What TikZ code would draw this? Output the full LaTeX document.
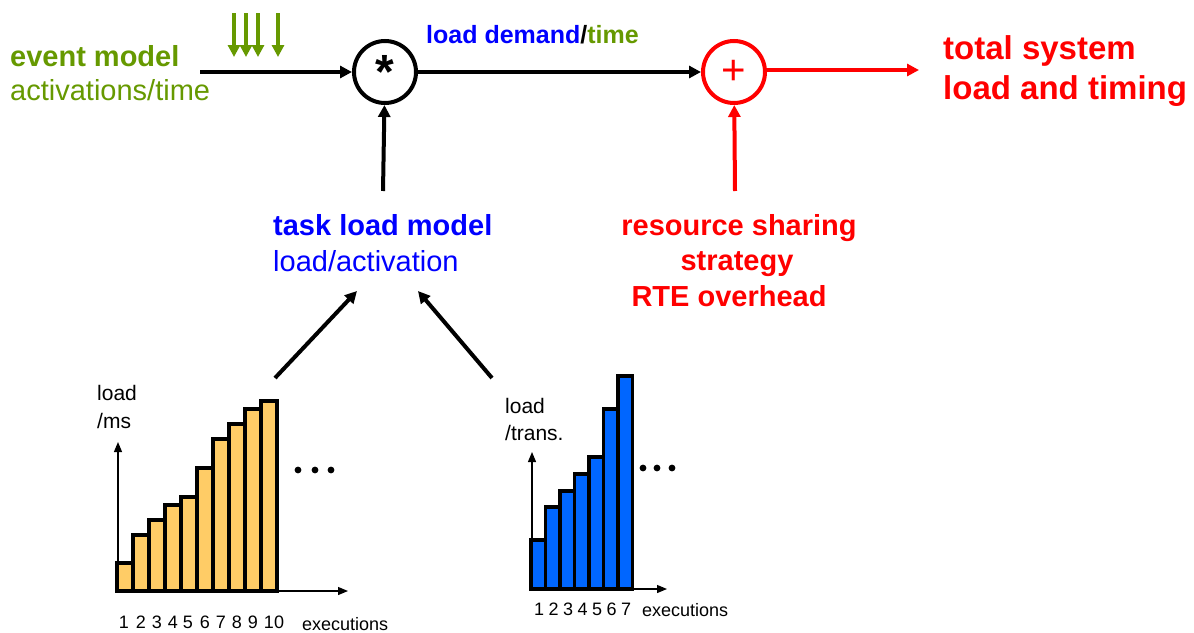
\documentclass[tikz,border=0pt]{standalone}
\usepackage{fontspec}
\setmainfont{Liberation Sans}
\usetikzlibrary{arrows.meta}

\definecolor{evgreen}{HTML}{669900}
\definecolor{ldblue}{HTML}{0000FF}
\definecolor{resred}{HTML}{FF0000}
\definecolor{barorange}{HTML}{FFCC66}
\definecolor{barblue}{HTML}{0066FF}

\tikzset{
	txt/.style={inner sep=0, anchor=base west},
	big/.style={font=\fontsize{29}{34}\selectfont},
	bigbf/.style={font=\fontsize{29}{34}\selectfont\bfseries},
	arr/.style={-{Triangle[length=12pt,width=12pt]}, line width=4pt},
	opcirc/.style={draw, circle, line width=4pt, minimum size=62pt, inner sep=0},
	axis/.style={-{Triangle[length=10pt,width=8pt]}, line width=1.2pt},
	bar/.style={draw, line width=3.8pt, line join=miter},
	num/.style={inner sep=0, anchor=base, font=\fontsize{18}{20}\selectfont}
}

\begin{document}
\begin{tikzpicture}[x=1pt, y=-1pt]
	\useasboundingbox (0,0) rectangle (1194,632);

	% operators
	\node [opcirc] (mul) at (385,72) {\fontsize{48}{48}\selectfont\bfseries *};
	\node [opcirc, resred] (add) at (734,72) {\fontsize{42}{42}\selectfont +};

	% labels
	\node [txt, bigbf, evgreen] (event) at (10,66) {event model};
	\node [txt, big, evgreen] (eventsub) at (10,100) {activations/time};
	\node [txt, font=\fontsize{25}{28}\selectfont\bfseries] (demand) at (426,43)
		{\textcolor{ldblue}{load demand}/\textcolor{evgreen}{time}};
	\node [txt, resred, font=\fontsize{33}{38}\selectfont\bfseries] (total) at (943,59) {total system};
	\node [txt, resred, font=\fontsize{33}{38}\selectfont\bfseries] (total2) at (943,99) {load and timing};
	\node [txt, bigbf, ldblue] (task) at (273,235) {task load model};
	\node [txt, big, ldblue] (act) at (273,271) {load/activation};
	\node [inner sep=0, anchor=base, bigbf, resred] (res) at (739,235) {resource sharing};
	\node [inner sep=0, anchor=base, bigbf, resred] (res2) at (737,270) {strategy};
	\node [inner sep=0, anchor=base, bigbf, resred] (res3) at (729,306) {RTE overhead};

	% connectors
	\coordinate (evin) at (200,72);
	\coordinate (sysout) at (919,70);
	\coordinate (taskup) at (383,191);
	\coordinate (resup) at (735,191);
	\draw [arr] (evin) -- (mul);
	\draw [arr] (mul) -- (add);
	\draw [arr, resred] (add.east |- sysout) -- (sysout);
	\draw [arr] (taskup) -- (mul);
	\draw [arr, resred] (resup) -- (add);

	% activations
	\foreach \x in {234,246,258,278}
		\draw [-{Triangle[length=12pt,width=12pt]}, line width=3.6pt, evgreen] (\x,13) -- (\x,57);

	% chart per ms
	\coordinate (msin) at (275,378);
	\coordinate (msto) at (357,291);
	\draw [arr] (msin) -- (msto);
	\foreach \t [count=\i from 0] in {563,535,520,505,497,468,439,424,409,401}
		\draw [bar, fill=barorange] ({117+16*\i},591) rectangle ({133+16*\i},\t);
	\draw [axis] (118,591) -- (118,442);
	\draw [axis] (118,591) -- (348,591);
	\node [txt, font=\fontsize{21}{24}\selectfont] (msy) at (97,400) {load};
	\node [txt, font=\fontsize{21}{24}\selectfont] (msy2) at (97,428) {/ms};
	\foreach \n/\x in {1/124,2/141,3/157,4/173,5/188,6/205,7/221,8/237,9/253,10/274}
		\node [num] (msn\n) at (\x,628) {\n};
	\node [txt, font=\fontsize{18}{20}\selectfont] (msx) at (302,630) {executions};
	\foreach \x in {298,315,331}
		\fill (\x,470) circle (3.4);

	% chart per transaction
	\coordinate (trin) at (492,378);
	\coordinate (trto) at (418,291);
	\draw [arr] (trin) -- (trto);
	\foreach \t [count=\i from 0] in {540,507,491,474,457,409,376}
		\draw [bar, fill=barblue] ({531+14.5*\i},589) rectangle ({545.5+14.5*\i},\t);
	\draw [axis] (532,589) -- (532,452);
	\draw [axis] (532,589) -- (667,589);
	\node [txt, font=\fontsize{21}{24}\selectfont] (try) at (505,413) {load};
	\node [txt, font=\fontsize{21}{24}\selectfont] (try2) at (505,440) {/trans.};
	\foreach \n [count=\i from 0] in {1,...,7}
		\node [num] (trn\n) at ({539+14.5*\i},615) {\n};
	\node [txt, font=\fontsize{18}{20}\selectfont] (trx) at (642,616) {executions};
	\foreach \x in {643,657,672}
		\fill (\x,468) circle (3.4);
\end{tikzpicture}
\end{document}
